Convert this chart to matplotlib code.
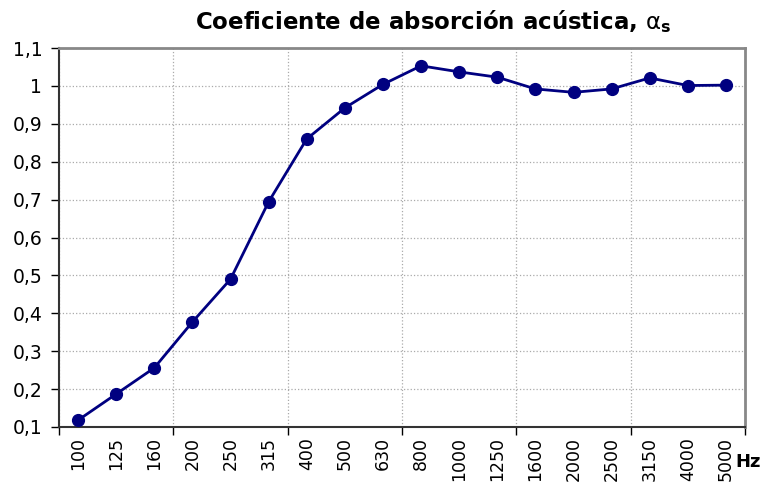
import matplotlib
matplotlib.use('Agg')
import matplotlib.pyplot as plt
from matplotlib.ticker import FixedLocator, FuncFormatter

freqs = ['100', '125', '160', '200', '250', '315', '400', '500', '630', '800',
         '1000', '1250', '1600', '2000', '2500', '3150', '4000', '5000']
alpha_s = [0.118, 0.187, 0.256, 0.377, 0.490, 0.694, 0.860, 0.942, 1.004, 1.053,
           1.037, 1.023, 0.992, 0.983, 0.992, 1.021, 1.001, 1.002]

plt.rcParams['font.family'] = ['DejaVu Sans']

fig = plt.figure(figsize=(7.62, 4.83), dpi=100)
ax = fig.add_axes([59 / 762, 1 - 427 / 483, 686 / 762, 379 / 483])

x = range(len(freqs))
ax.plot(x, alpha_s, color='#000080', lw=2, marker='o', markersize=8.5, zorder=3)

ax.set_xlim(-0.5, len(freqs) - 0.5)
ax.set_ylim(0.1, 1.1)

# category labels on minor ticks, tick marks every 3 categories
ax.xaxis.set_major_locator(FixedLocator([i - 0.5 for i in range(0, len(freqs) + 1, 3)]))
ax.xaxis.set_minor_locator(FixedLocator(list(x)))
ax.xaxis.set_major_formatter(FuncFormatter(lambda v, p: ''))
ax.set_xticklabels(freqs, minor=True, rotation=90, fontsize=12.5)
ax.tick_params(axis='x', which='minor', length=0, pad=7)
ax.tick_params(axis='x', which='major', length=6, width=1, direction='out')

ax.set_yticks([0.1 * i for i in range(1, 12)])
ax.yaxis.set_major_formatter(FuncFormatter(lambda v, p: ('%g' % round(v, 2)).replace('.', ',')))
ax.tick_params(axis='y', labelsize=13.5, length=6, width=1, direction='out', pad=6)

ax.grid(True, which='major', color='#aaaaaa', linestyle=':', lw=0.9)
ax.set_axisbelow(True)

for s in ['left', 'bottom']:
    ax.spines[s].set_color('#333333')
    ax.spines[s].set_linewidth(1.5)
for s in ['top', 'right']:
    ax.spines[s].set_color('#888888')
    ax.spines[s].set_linewidth(2)

fig.text(0.568, 0.955, r'Coeficiente de absorción acústica, $\mathrm{\alpha}_\mathbf{s}$',
         ha='center', va='center', fontsize=16.5, fontweight='bold')
fig.text(761 / 762, 1 - 462 / 483, 'Hz', ha='right', va='center',
         fontsize=13, fontweight='bold')

fig.savefig('out.png', dpi=100)
